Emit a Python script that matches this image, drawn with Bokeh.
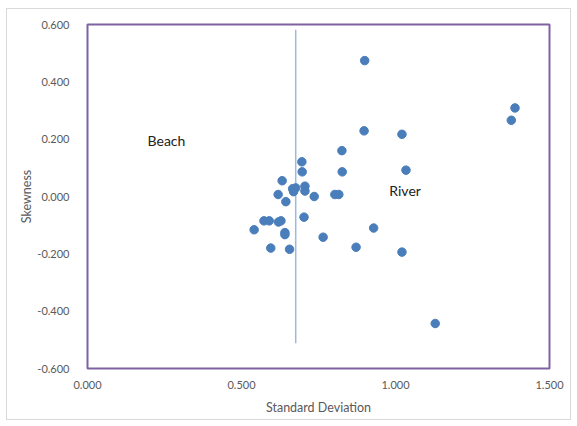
from bokeh.plotting import figure
from bokeh.models import Range1d, FixedTicker, NumeralTickFormatter, Label, ColumnDataSource
from bokeh.embed import file_html
from bokeh.resources import INLINE

# Grain-size statistics per sample
std_dev = [0.900, 1.388, 1.376, 0.898, 1.021, 0.826, 0.696, 0.697, 0.827, 1.034,
           0.632, 0.666, 0.676, 0.669, 0.706, 0.706, 0.619, 0.736, 0.803, 0.816,
           0.644, 0.703, 0.573, 0.590, 0.620, 0.628, 0.541, 0.641, 0.641, 0.929,
           0.765, 0.595, 0.656, 0.872, 1.021, 1.129]
skewness = [0.474, 0.309, 0.266, 0.229, 0.217, 0.160, 0.121, 0.086, 0.086, 0.092,
            0.055, 0.027, 0.030, 0.017, 0.036, 0.019, 0.007, 0.000, 0.007, 0.007,
            -0.018, -0.072, -0.085, -0.085, -0.089, -0.085, -0.116, -0.126, -0.133, -0.110,
            -0.142, -0.180, -0.184, -0.177, -0.194, -0.443]

# Beach / river divider
divider_x = [0.676, 0.676]
divider_y = [-0.512, 0.582]

x_ticks = [0.0, 0.5, 1.0, 1.5]
y_ticks = [-0.6, -0.4, -0.2, 0.0, 0.2, 0.4, 0.6]

FONT = "Lato"
GREY = "#595959"

p = figure(width=563, height=410, output_backend="svg", toolbar_location=None,
           x_range=Range1d(0, 1.5), y_range=Range1d(-0.6, 0.6),
           min_border_left=80, min_border_right=21, min_border_top=15, min_border_bottom=51)
p.margin = (9, 7, 7, 7)
p.styles = {"outline": "1px solid #d9d9d9"}

p.outline_line_color = "#7f63a1"
p.outline_line_width = 2
p.xgrid.visible = False
p.ygrid.visible = False

for ax in (p.xaxis[0], p.yaxis[0]):
    ax.axis_line_color = None
    ax.major_tick_line_color = None
    ax.minor_tick_line_color = None
    ax.major_label_text_font = FONT
    ax.major_label_text_font_size = "11px"
    ax.major_label_text_color = GREY
    ax.axis_label_text_font = FONT
    ax.axis_label_text_font_size = "12.5px"
    ax.axis_label_text_font_style = "normal"
    ax.axis_label_text_color = GREY
    ax.formatter = NumeralTickFormatter(format="0.000")

p.xaxis.ticker = FixedTicker(ticks=x_ticks)
p.yaxis.ticker = FixedTicker(ticks=y_ticks)
p.xaxis.axis_label = "Standard Deviation"
p.yaxis.axis_label = "Skewness"
p.xaxis.major_label_standoff = 6
p.yaxis.major_label_standoff = 12
p.xaxis.axis_label_standoff = 8
p.yaxis.axis_label_standoff = 0

p.line(divider_x, divider_y, line_color="#9dbad9", line_width=1.5)

src = ColumnDataSource(dict(x=std_dev, y=skewness))
p.scatter("x", "y", source=src, size=8.5, fill_color="#4a7ebb", line_color="#4a7ebb")

p.add_layout(Label(x=0.195, y=0.197, text="Beach", text_font=FONT, text_font_size="14px",
                   text_color="#222222", text_baseline="middle"))
p.add_layout(Label(x=0.980, y=0.022, text="River", text_font=FONT, text_font_size="14px",
                   text_color="#222222", text_baseline="middle"))

open("out.html", "w").write(file_html(p, INLINE))
